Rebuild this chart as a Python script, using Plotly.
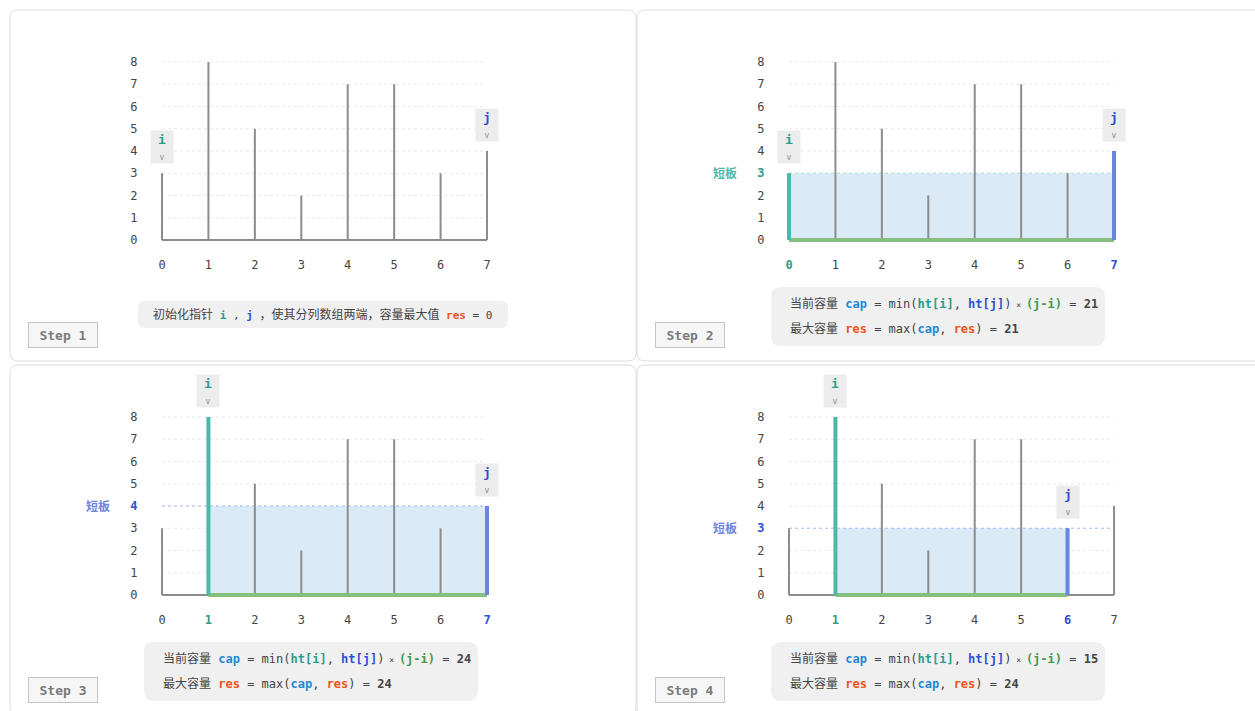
import plotly.graph_objects as go

# === data ===
heights = [3, 8, 5, 2, 7, 7, 3, 4]
idx = list(range(len(heights)))
yticks = [0, 1, 2, 3, 4, 5, 6, 7, 8]
step_names = ["Step 1", "Step 2", "Step 3", "Step 4"]
step_i = [0, 0, 1, 1]
step_j = [7, 7, 7, 6]
step_cap = [None, 21, 24, 15]
step_res = [0, 21, 24, 24]

W, H = 1255, 711
FONT = "DejaVu Sans Mono, Noto Sans CJK SC"
C_I, C_J = "#2e9c8b", "#2f4fd6"
C_RES, C_CAP, C_GRN = "#f0521c", "#1e88d6", "#3f9a4f"
L_I, L_J, L_GRN = "#4cb8a9", "#6a84e0", "#84bf80"
TXT, BAR = "#444444", "#8c8c8c"

# panel offsets (px) and in-panel geometry
offs = [(0, 0), (627, 0), (0, 355), (627, 355)]
X0, XU = 162, 46.43          # px of x=0, px per unit
Y0, YU = 240, 22.25          # px of y=0, px per unit
XR, YR = [-0.25, 7.25], [-0.3, 8.3]


def fx(px):
    return px / W


def fy(py):
    return 1 - py / H


def rrect(x0, y0, x1, y1, r):
    a, b, c, d = fx(x0), fx(x1), fy(y0), fy(y1)
    rx, ry = r / W, r / H
    return (f"M{a+rx},{c} L{b-rx},{c} Q{b},{c} {b},{c-ry} L{b},{d+ry} Q{b},{d} {b-rx},{d} "
            f"L{a+rx},{d} Q{a},{d} {a},{d+ry} L{a},{c-ry} Q{a},{c} {a+rx},{c} Z")


def b(t, c):
    return f"<b><span style='color:{c}'>{t}</span></b>"


def sm(t, s=11):
    return f"<span style='font-size:{s}px'>{t}</span>"


fig = go.Figure()
shapes, annos = [], []

for k in range(4):
    ox, oy = offs[k]
    xa, ya = ("x", "y") if k == 0 else (f"x{k+1}", f"y{k+1}")
    i, j = step_i[k], step_j[k]

    # panel border
    shapes.append(dict(type="path", xref="paper", yref="paper", layer="below",
                       path=rrect(ox + 10, oy + 10, ox + 636 if k % 2 == 0 else ox + 640, oy + 361, 8),
                       line=dict(color="#dcdcdc", width=1), fillcolor="white"))

    # gridlines
    gx, gy = [], []
    for v in yticks:
        gx += [idx[0], idx[-1], None]
        gy += [v, v, None]
    fig.add_trace(go.Scatter(x=gx, y=gy, mode="lines", xaxis=xa, yaxis=ya,
                             line=dict(color="#e8e8e8", width=1, dash="dot"), hoverinfo="skip"))

    m = None
    if k > 0:
        m = min(heights[i], heights[j])
        fig.add_trace(go.Scatter(x=[i, j, j, i, i], y=[0, 0, m, m, 0], mode="lines", fill="toself",
                                 fillcolor="#dbeaf7", line=dict(width=0), xaxis=xa, yaxis=ya, hoverinfo="skip"))
        mc = L_I if heights[i] < heights[j] else L_J
        fig.add_trace(go.Scatter(x=[idx[0], idx[-1]], y=[m, m], mode="lines", xaxis=xa, yaxis=ya,
                                 line=dict(color="#a9c0f0" if mc == L_J else "#a6dcd3", width=1.2, dash="dot"),
                                 hoverinfo="skip"))

    # bars + baseline
    bx, by = [], []
    for x, h in zip(idx, heights):
        bx += [x, x, None]
        by += [0, h, None]
    fig.add_trace(go.Scatter(x=bx, y=by, mode="lines", xaxis=xa, yaxis=ya,
                             line=dict(color=BAR, width=2), hoverinfo="skip"))
    fig.add_trace(go.Scatter(x=[idx[0], idx[-1]], y=[0, 0], mode="lines", xaxis=xa, yaxis=ya,
                             line=dict(color=BAR, width=2), hoverinfo="skip"))

    if k > 0:
        fig.add_trace(go.Scatter(x=[i, j], y=[0, 0], mode="lines", xaxis=xa, yaxis=ya,
                                 line=dict(color=L_GRN, width=4), hoverinfo="skip"))
        fig.add_trace(go.Scatter(x=[i, i], y=[0, heights[i]], mode="lines", xaxis=xa, yaxis=ya,
                                 line=dict(color=L_I, width=4), hoverinfo="skip"))
        fig.add_trace(go.Scatter(x=[j, j], y=[0, heights[j]], mode="lines", xaxis=xa, yaxis=ya,
                                 line=dict(color=L_J, width=4), hoverinfo="skip"))

    # tick labels
    xt = []
    for x in idx:
        if k > 0 and x == i:
            xt.append(b(x, C_I))
        elif k > 0 and x == j:
            xt.append(b(x, C_J))
        else:
            xt.append(str(x))
    yt = []
    for v in yticks:
        if m is not None and v == m:
            yt.append(b(v, C_I if heights[i] < heights[j] else C_J))
        else:
            yt.append(str(v))

    xd = [fx(ox + X0 + XR[0] * XU), fx(ox + X0 + XR[1] * XU)]
    yd = [fy(oy + Y0 - YR[0] * YU), fy(oy + Y0 - YR[1] * YU)]
    sfx = "" if k == 0 else str(k + 1)
    fig.update_layout(**{
        "xaxis" + sfx: dict(domain=xd, range=XR, anchor=ya, tickvals=idx, ticktext=xt,
                            showgrid=False, zeroline=False, showline=False, ticks="",
                            ticklabelstandoff=9, tickfont=dict(family=FONT, size=12, color=TXT),
                            fixedrange=True),
        "yaxis" + sfx: dict(domain=yd, range=YR, anchor=xa, tickvals=yticks, ticktext=yt,
                            showgrid=False, zeroline=False, showline=False, ticks="",
                            ticklabelstandoff=12, tickfont=dict(family=FONT, size=12, color=TXT),
                            fixedrange=True),
    })

    # short-board label
    if m is not None:
        annos.append(dict(xref="paper", yref=ya, x=fx(ox + 98), y=m, showarrow=False,
                          xanchor="center", yanchor="middle",
                          text="<b>短板</b>", font=dict(family=FONT, size=12,
                                                      color=L_I if heights[i] < heights[j] else L_J)))

    # pointer tags
    for p, lab, col in [(i, "i", C_I), (j, "j", C_J)]:
        annos.append(dict(xref=xa, yref=ya, x=p, y=heights[p], xanchor="center", yanchor="bottom", yshift=9,
                          showarrow=False, bgcolor="#ececec", width=16, height=26, borderpad=3,
                          text=f"<b>{lab}</b><br><span style='font-size:8px;color:#888'>v</span>",
                          font=dict(family=FONT, size=13, color=col)))

    # step label
    annos.append(dict(xref="paper", yref="paper", x=fx(ox + 62.5), y=fy(oy + 335), showarrow=False,
                      xanchor="center", yanchor="middle",
                      text=f"<b>{step_names[k]}</b>", bgcolor="#f6f6f6", bordercolor="#c4c4c4",
                      borderwidth=1, width=66, height=22,
                      font=dict(family=FONT, size=13, color="#7a7a7a")))

    # caption box and text
    if k == 0:
        shapes.append(dict(type="path", xref="paper", yref="paper", layer="below",
                           path=rrect(ox + 138, oy + 301, ox + 508, oy + 328, 7),
                           line=dict(width=0), fillcolor="#f0f0f0"))
        annos.append(dict(xref="paper", yref="paper", x=fx(ox + 151), y=fy(oy + 314.5),
                          xanchor="left", yanchor="middle",
                          showarrow=False, font=dict(family=FONT, size=12, color=TXT),
                          text=f"初始化指针{sm(' ' + b('i', C_I) + ' , ' + b('j', C_J) + ' ')}，使其分列数组两端，容量最大值"
                               f"{sm(' ' + b('res', C_RES) + ' = ' + str(step_res[k]))}"))
    else:
        shapes.append(dict(type="path", xref="paper", yref="paper", layer="below",
                           path=rrect(ox + 144, oy + 287, ox + 478, oy + 346, 10),
                           line=dict(width=0), fillcolor="#f0f0f0"))
        annos.append(dict(xref="paper", yref="paper", x=fx(ox + 161), y=fy(oy + 303),
                          xanchor="left", yanchor="middle",
                          showarrow=False, font=dict(family=FONT, size=12, color=TXT),
                          text=f"当前容量 {b('cap', C_CAP)} = min({b('ht[i]', C_I)}, {b('ht[j]', C_J)})"
                               f"{sm(' × ', 8)}"
                               f"{b('(j-i)', C_GRN)} = <b>{step_cap[k]}</b>"))
        annos.append(dict(xref="paper", yref="paper", x=fx(ox + 161), y=fy(oy + 328.5),
                          xanchor="left", yanchor="middle",
                          showarrow=False, font=dict(family=FONT, size=12, color=TXT),
                          text=f"最大容量 {b('res', C_RES)} = max({b('cap', C_CAP)}, {b('res', C_RES)}) = "
                               f"<b>{step_res[k]}</b>"))

fig.update_layout(width=W, height=H, margin=dict(l=0, r=0, t=0, b=0),
                  paper_bgcolor="white", plot_bgcolor="rgba(0,0,0,0)",
                  showlegend=False, shapes=shapes, annotations=annos)

fig.write_html("out.html", config={"displayModeBar": False},
               post_script="document.body.style.margin='0';")
